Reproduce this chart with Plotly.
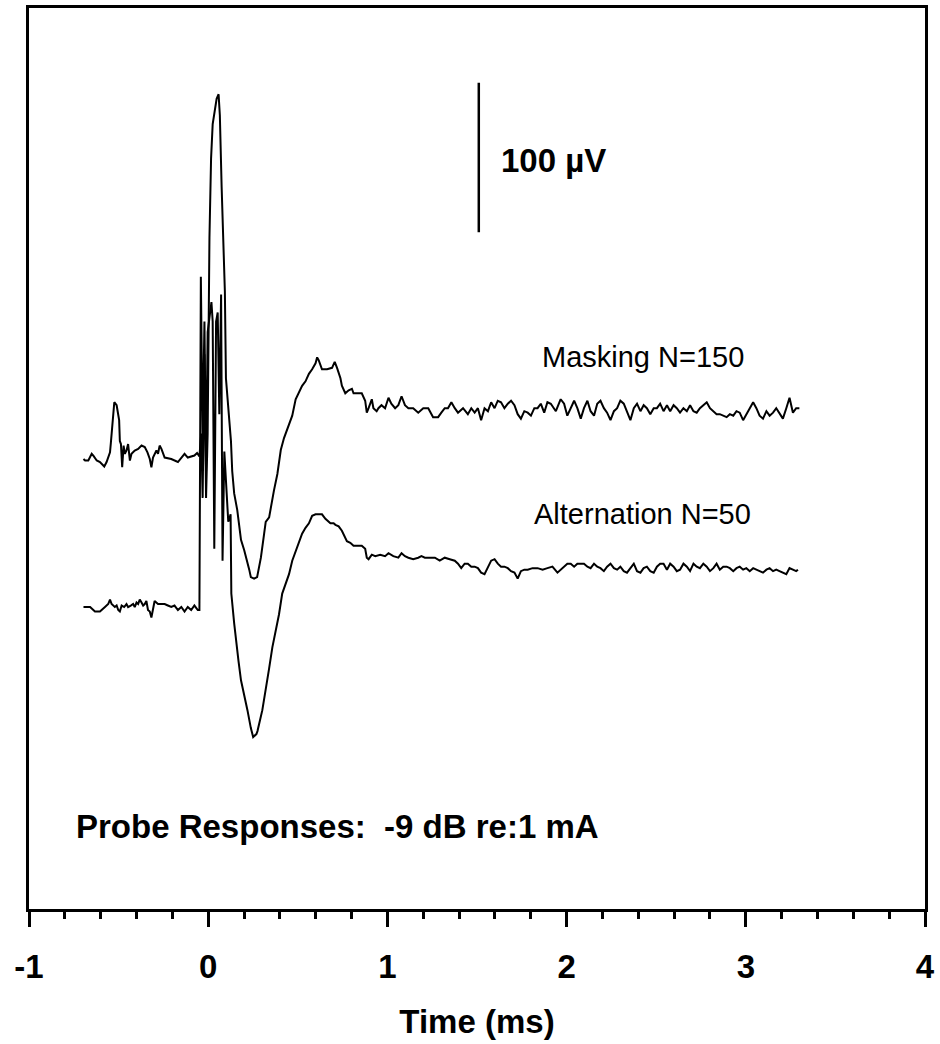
import plotly.graph_objects as go

# ---------------- data (time in ms, amplitude in µV re: each trace's baseline) ----------------
MASK_T_PRE = [-0.696, -0.687, -0.669, -0.650, -0.641, -0.622, -0.604, -0.580, -0.567, -0.558,
              -0.548, -0.543, -0.536, -0.524, -0.511, -0.506, -0.497, -0.493, -0.487, -0.480,
              -0.472, -0.465, -0.456, -0.447, -0.437, -0.428, -0.410, -0.391, -0.372, -0.354,
              -0.339, -0.326, -0.317, -0.308, -0.289, -0.280, -0.271, -0.261, -0.243, -0.206,
              -0.169, -0.132, -0.114, -0.077, -0.062, -0.049]
MASK_V_PRE = [-1, -2, -2, 2.5, 1.3, -2, -3, -6, -3, 0,
              3.5, 10, 22.5, 37, 35, 31, 25, 11, 9, -6.5,
              8, 2.5, 4.7, 9, -2, 2.5, 4.7, 5.8, 8, 7,
              3.5, -1, -6.5, 0, 4.7, 2.5, 8, 5.8, 0, -1,
              -3, 2.5, 0, 1.3, 3, 0.7]

MASK_T_RESP = [-0.039, -0.031, -0.021, -0.012, -0.003, 0.007, 0.016, 0.025, 0.038, 0.047,
               0.058, 0.065, 0.075, 0.086, 0.093, 0.099, 0.118, 0.127, 0.134, 0.145,
               0.162, 0.173, 0.183, 0.201, 0.218, 0.229, 0.238, 0.256, 0.273, 0.284,
               0.294, 0.312, 0.321, 0.340, 0.349, 0.367, 0.386, 0.395, 0.405, 0.423,
               0.432, 0.451, 0.469, 0.488, 0.506, 0.524, 0.543, 0.562, 0.580, 0.599,
               0.608, 0.617, 0.635, 0.663, 0.691, 0.706, 0.719, 0.738, 0.746, 0.765,
               0.784, 0.802, 0.811, 0.830, 0.857, 0.876, 0.885, 0.895, 0.913, 0.922,
               0.940]
MASK_V_RESP = [16, -27, 69, -27, 16, 147, 200, 223, 235, 240,
               243, 229, 181, 131, 111, 53, 23, 11, -9, -24,
               -35, -44, -55, -62, -69, -75, -80, -81, -80, -73,
               -67, -51, -43, -40, -33, -22, -11, -4, 5, 13,
               16, 21, 28, 39, 43, 48, 51, 56, 59, 63,
               67, 65, 59, 59, 60, 64, 60, 53, 48, 43,
               45, 46, 43, 43, 43, 38, 30, 33, 39, 33,
               31]

MASK_T_TAIL = [0.950, 0.967, 0.987, 1.006, 1.022, 1.043, 1.061, 1.079, 1.098, 1.117,
               1.144, 1.172, 1.200, 1.228, 1.255, 1.283, 1.301, 1.320, 1.338, 1.357,
               1.376, 1.394, 1.422, 1.449, 1.468, 1.487, 1.505, 1.523, 1.542, 1.561,
               1.579, 1.598, 1.616, 1.634, 1.653, 1.672, 1.690, 1.709, 1.727, 1.745,
               1.764, 1.783, 1.801, 1.820, 1.838, 1.856, 1.875, 1.893, 1.912, 1.940,
               1.967, 1.986, 2.004, 2.023, 2.042, 2.060, 2.079, 2.097, 2.116, 2.134,
               2.153, 2.171, 2.189, 2.208, 2.226, 2.245, 2.264, 2.282, 2.300, 2.319,
               2.337, 2.356, 2.375, 2.393, 2.412, 2.430, 2.448, 2.467, 2.486, 2.504,
               2.522, 2.541, 2.560, 2.578, 2.597, 2.615, 2.633, 2.652, 2.671, 2.689,
               2.708, 2.726, 2.744, 2.763, 2.782, 2.800, 2.819, 2.837, 2.855, 2.874,
               2.893, 2.911, 2.930, 2.948, 2.966, 2.985, 3.003, 3.022, 3.041, 3.059,
               3.077, 3.096, 3.115, 3.133, 3.152, 3.170, 3.188, 3.207, 3.226, 3.244,
               3.263, 3.281, 3.299]
MASK_V_TAIL = [33, 35, 33, 40, 36, 33, 35, 41, 35, 33,
               33, 30, 33, 33, 27, 27, 30, 33, 33, 37,
               33, 30, 33, 29, 33, 30, 33, 25, 33, 31,
               37, 33, 38, 37, 33, 36, 38, 35, 29, 26,
               31, 30, 28, 33, 33, 36, 30, 37, 36, 31,
               39, 36, 28, 33, 38, 33, 26, 33, 38, 31,
               28, 36, 38, 33, 30, 25, 31, 33, 38, 36,
               31, 25, 33, 36, 31, 35, 33, 29, 33, 33,
               36, 31, 35, 31, 35, 33, 30, 33, 31, 35,
               31, 30, 33, 35, 37, 33, 31, 29, 29, 28,
               27, 29, 28, 31, 30, 25, 29, 33, 37, 33,
               28, 26, 31, 28, 30, 33, 30, 26, 33, 40,
               30, 33, 33]

ALT_T_PRE = [-0.696, -0.659, -0.632, -0.604, -0.576, -0.558, -0.548, -0.539, -0.521, -0.511,
             -0.502, -0.493, -0.483, -0.469, -0.456, -0.447, -0.432, -0.419, -0.410, -0.400,
             -0.391, -0.382, -0.372, -0.363, -0.354, -0.345, -0.336, -0.326, -0.317, -0.308,
             -0.299, -0.280, -0.261, -0.243, -0.225, -0.206, -0.188, -0.169, -0.150, -0.132,
             -0.114, -0.095, -0.077, -0.058, -0.049]
ALT_V_PRE = [0, 0, -3, -3, 0, 2, 5, 2, 0, 1,
             -2, -3, 1, 0, 2, 0, 1, 2, 0, 3,
             2, 5, 3, 1, 2, 4, -2, -3, -7, 0,
             4, 2, 2, 2, 1, 0, 1, -2, 0, -3,
             0, -2, 1, -2, -2]

ALT_T_RESP = [-0.041, -0.031, -0.021, -0.012, -0.003, 0.018, 0.025, 0.034, 0.044, 0.053,
              0.062, 0.072, 0.080, 0.090, 0.101, 0.112, 0.125, 0.129, 0.145, 0.155,
              0.169, 0.183, 0.201, 0.219, 0.238, 0.251, 0.269, 0.275, 0.302, 0.321,
              0.340, 0.358, 0.377, 0.395, 0.413, 0.432, 0.451, 0.469, 0.488, 0.506,
              0.524, 0.543, 0.562, 0.580, 0.599, 0.635, 0.654, 0.682, 0.700, 0.710,
              0.728, 0.746, 0.765, 0.774, 0.793, 0.811, 0.839, 0.857, 0.876, 0.885,
              0.895, 0.913, 0.932]
ALT_V_RESP = [221, 111, 191, 91, 184, 204, 191, 39, 191, 197,
              129, 209, 31, 104, 84, 57, 62, 9, -11, -23,
              -36, -49, -58, -69, -81, -87, -85, -83, -69, -56,
              -41, -27, -16, -5, 9, 15, 22, 31, 37, 44,
              49, 53, 56, 61, 62, 62, 59, 56, 56, 55,
              54, 51, 46, 44, 43, 41, 41, 41, 39, 33,
              32, 35, 34]

ALT_T_TAIL = [0.960, 0.987, 1.006, 1.033, 1.061, 1.079, 1.098, 1.117, 1.144, 1.172,
              1.190, 1.209, 1.237, 1.265, 1.292, 1.320, 1.348, 1.376, 1.394, 1.412,
              1.431, 1.449, 1.468, 1.487, 1.505, 1.523, 1.542, 1.561, 1.579, 1.598,
              1.616, 1.634, 1.653, 1.672, 1.690, 1.709, 1.727, 1.745, 1.764, 1.783,
              1.810, 1.838, 1.866, 1.893, 1.921, 1.949, 1.967, 1.986, 2.004, 2.023,
              2.042, 2.060, 2.079, 2.097, 2.116, 2.134, 2.153, 2.171, 2.189, 2.208,
              2.226, 2.245, 2.264, 2.282, 2.300, 2.319, 2.337, 2.356, 2.375, 2.393,
              2.412, 2.430, 2.448, 2.467, 2.486, 2.504, 2.522, 2.541, 2.560, 2.578,
              2.597, 2.615, 2.633, 2.652, 2.671, 2.689, 2.708, 2.726, 2.744, 2.763,
              2.782, 2.800, 2.819, 2.837, 2.855, 2.874, 2.893, 2.911, 2.930, 2.948,
              2.966, 2.985, 3.003, 3.022, 3.041, 3.059, 3.077, 3.096, 3.115, 3.133,
              3.152, 3.170, 3.188, 3.207, 3.226, 3.244, 3.263, 3.281, 3.291]
ALT_V_TAIL = [35, 34, 36, 34, 33, 36, 34, 33, 32, 33,
              34, 33, 33, 33, 31, 33, 32, 31, 29, 26,
              29, 29, 27, 27, 26, 23, 22, 27, 31, 32,
              29, 27, 27, 26, 24, 23, 19, 24, 25, 25,
              26, 26, 25, 26, 27, 23, 25, 27, 29, 29,
              27, 29, 29, 29, 27, 26, 29, 27, 26, 24,
              27, 29, 26, 25, 27, 24, 23, 26, 29, 24,
              23, 26, 27, 24, 23, 27, 29, 29, 25, 29,
              27, 24, 25, 29, 27, 24, 29, 27, 26, 29,
              27, 24, 26, 29, 25, 27, 27, 26, 24, 26,
              27, 25, 26, 24, 26, 25, 24, 23, 25, 26,
              24, 25, 24, 23, 22, 26, 25, 24, 25]

MASK_OFFSET_UV = 100          # vertical display offset of the masking trace
SCALE_BAR_T = 1.51            # ms
SCALE_BAR_BASE_UV = 250.7
SCALE_BAR_UV = 100

X_TICKS = [-1, 0, 1, 2, 3, 4]
X_TICK_TEXT = ["-1", "0", "1", "2", "3", "4"]

for a, b in [(MASK_T_PRE, MASK_V_PRE), (MASK_T_RESP, MASK_V_RESP), (MASK_T_TAIL, MASK_V_TAIL),
             (ALT_T_PRE, ALT_V_PRE), (ALT_T_RESP, ALT_V_RESP), (ALT_T_TAIL, ALT_V_TAIL)]:
    assert len(a) == len(b), (len(a), len(b))

mask_t = MASK_T_PRE + MASK_T_RESP + MASK_T_TAIL
mask_v = [v + MASK_OFFSET_UV for v in MASK_V_PRE + MASK_V_RESP + MASK_V_TAIL]
alt_t = ALT_T_PRE + ALT_T_RESP + ALT_T_TAIL
alt_v = ALT_V_PRE + ALT_V_RESP + ALT_V_TAIL

FONT = "Liberation Sans, Arial, Helvetica, sans-serif"
BLACK = "#000000"

fig = go.Figure()
fig.add_trace(go.Scatter(x=mask_t, y=mask_v, mode="lines", name="Masking N=150",
                         line=dict(color=BLACK, width=2)))
fig.add_trace(go.Scatter(x=alt_t, y=alt_v, mode="lines", name="Alternation N=50",
                         line=dict(color=BLACK, width=2)))
fig.add_trace(go.Scatter(x=[SCALE_BAR_T, SCALE_BAR_T],
                         y=[SCALE_BAR_BASE_UV, SCALE_BAR_BASE_UV + SCALE_BAR_UV],
                         mode="lines", line=dict(color=BLACK, width=2.5), name="scale"))

annots = [
    dict(x=2.426, y=167, text="Masking N=150", xanchor="center", yanchor="middle",
         font=dict(size=29, family=FONT, color=BLACK)),
    dict(x=2.426, y=62, text="Alternation N=50", xanchor="center", yanchor="middle",
         font=dict(size=29, family=FONT, color=BLACK)),
    dict(x=-0.747, y=-147, text="<b>Probe Responses:\u00a0 -9 dB re:1 mA</b>", xanchor="left",
         yanchor="middle", font=dict(size=33, family=FONT, color=BLACK)),
    dict(x=1.620, y=299, text="<b>100 µV</b>", xanchor="left", yanchor="middle",
         font=dict(size=33, family=FONT, color=BLACK)),
]
for a in annots:
    a.update(xref="x", yref="y", showarrow=False)

fig.update_layout(
    width=940, height=1044,
    margin=dict(l=29, r=10, t=5, b=135),
    paper_bgcolor="white", plot_bgcolor="white",
    showlegend=False,
    annotations=annots,
    xaxis=dict(
        range=[-1, 4], tickvals=X_TICKS, ticktext=X_TICK_TEXT,
        ticks="outside", ticklen=15, tickwidth=3, tickcolor=BLACK,
        ticklabelstandoff=12,
        showline=True, linewidth=2.5, linecolor=BLACK, mirror=True,
        showgrid=False, zeroline=False,
        minor=dict(dtick=0.2, ticks="outside", ticklen=7, tickwidth=3, tickcolor=BLACK, showgrid=False),
        tickfont=dict(size=33, family=FONT, color=BLACK, weight="bold"),
        title=dict(text="<b>Time (ms)</b>", font=dict(size=33, family=FONT, color=BLACK), standoff=26),
    ),
    yaxis=dict(
        range=[-202, 400.7], showticklabels=False, ticks="",
        showline=True, linewidth=3, linecolor=BLACK, mirror=True,
        showgrid=False, zeroline=False,
    ),
)

fig.write_html("out.html")
